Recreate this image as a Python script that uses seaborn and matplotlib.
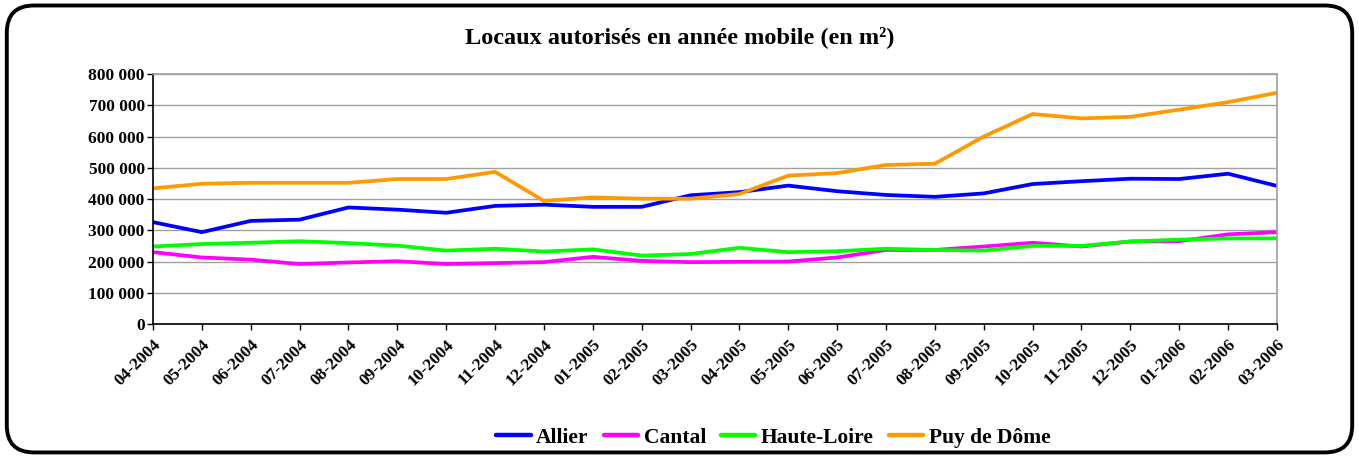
import numpy as np
import pandas as pd
import matplotlib
matplotlib.use("Agg")
import matplotlib.pyplot as plt
import seaborn as sns
from matplotlib.patches import FancyBboxPatch
from matplotlib.ticker import FuncFormatter

months = ["04-2004", "05-2004", "06-2004", "07-2004", "08-2004", "09-2004",
          "10-2004", "11-2004", "12-2004", "01-2005", "02-2005", "03-2005",
          "04-2005", "05-2005", "06-2005", "07-2005", "08-2005", "09-2005",
          "10-2005", "11-2005", "12-2005", "01-2006", "02-2006", "03-2006"]

allier = [326000, 294000, 330000, 334000, 373000, 366000, 356000, 378000,
          382000, 375000, 375000, 412000, 422000, 443000, 425000, 413000,
          407000, 418000, 448000, 457000, 465000, 464000, 481000, 442000]
cantal = [230000, 213000, 206000, 192000, 197000, 201000, 192000, 195000,
          198000, 215000, 202000, 198000, 199000, 200000, 213000, 237000,
          237000, 248000, 260000, 248000, 264000, 265000, 287000, 294000]
haute_loire = [248000, 256000, 260000, 265000, 259000, 251000, 235000, 241000,
               232000, 239000, 219000, 224000, 244000, 230000, 233000, 241000,
               237000, 235000, 250000, 250000, 264000, 270000, 274000, 274000]
puy_de_dome = [434000, 449000, 452000, 452000, 452000, 464000, 464000, 487000,
               394000, 405000, 401000, 401000, 416000, 475000, 483000, 509000,
               513000, 600000, 672000, 658000, 663000, 686000, 710000, 740000]

series_names = ["Allier", "Cantal", "Haute-Loire", "Puy de Dôme"]
series_colors = ["#0000FF", "#FF00FF", "#00FF00", "#FF9900"]
title = "Locaux autorisés en année mobile (en m²)"

data = {"Allier": allier, "Cantal": cantal, "Haute-Loire": haute_loire,
        "Puy de Dôme": puy_de_dome}
rows = []
for name in series_names:
    for i, v in enumerate(data[name]):
        rows.append({"pos": i, "month": months[i], "serie": name, "value": v})
df = pd.DataFrame(rows)

sns.set_theme(style="white")
plt.rcParams["font.family"] = ["Liberation Serif", "DejaVu Serif"]
plt.rcParams["font.weight"] = "bold"
plt.rcParams["text.color"] = "black"
plt.rcParams["xtick.color"] = "black"
plt.rcParams["ytick.color"] = "black"

fig = plt.figure(figsize=(13.59, 4.57), dpi=100)
ax = fig.add_axes([0.1126, 0.291, 0.827, 0.547])

sns.lineplot(data=df, x="pos", y="value", hue="serie", hue_order=series_names,
             palette=series_colors, linewidth=2.7, ax=ax, legend=True,
             estimator=None, sort=False)

ax.set_xlim(0, len(months) - 1)
ax.set_ylim(0, 800000)
ax.set_yticks(np.arange(0, 800001, 100000))
ax.yaxis.set_major_formatter(FuncFormatter(lambda v, p: f"{int(v):,}".replace(",", " ")))
ax.set_xticks(range(len(months)))
ax.set_xticklabels(months, rotation=45, ha="right", rotation_mode="anchor")
ax.set_xlabel("")
ax.set_ylabel("")

ax.grid(axis="y", color="#A0A0A0", linewidth=1)
ax.set_axisbelow(True)
for s in ["left", "bottom"]:
    ax.spines[s].set_color("black")
    ax.spines[s].set_linewidth(1.2)
ax.spines["right"].set_color("#A0A0A0")
ax.spines["top"].set_color("#A0A0A0")
ax.tick_params(axis="both", which="major", direction="out", length=4, width=1,
               color="black", labelsize=12.5, pad=2, bottom=True, left=True)
ax.tick_params(axis="x", pad=5)
for lab in ax.get_xticklabels() + ax.get_yticklabels():
    lab.set_fontweight("bold")
    lab.set_color("black")

fig.text(0.5, 0.919, title, ha="center", va="center", fontsize=17.5,
         fontweight="bold", color="black")

handles, labels = ax.get_legend_handles_labels()
ax.legend_.remove()
for h in handles:
    h.set_linewidth(3.2)
leg = fig.legend(handles, labels, loc="center", bbox_to_anchor=(0.569, 0.042),
                 ncol=4, frameon=False, handlelength=1.6, handletextpad=0.25,
                 columnspacing=0.7, prop={"weight": "bold", "size": 15.5})
for t in leg.get_texts():
    t.set_color("black")

border = FancyBboxPatch((0.005, 0.01), 0.99, 0.978, boxstyle="round,pad=0,rounding_size=0.02",
                        transform=fig.transFigure, fill=False, edgecolor="black",
                        linewidth=2.8, mutation_aspect=1359 / 457)
fig.patches.append(border)

fig.savefig("out.png", dpi=100)
